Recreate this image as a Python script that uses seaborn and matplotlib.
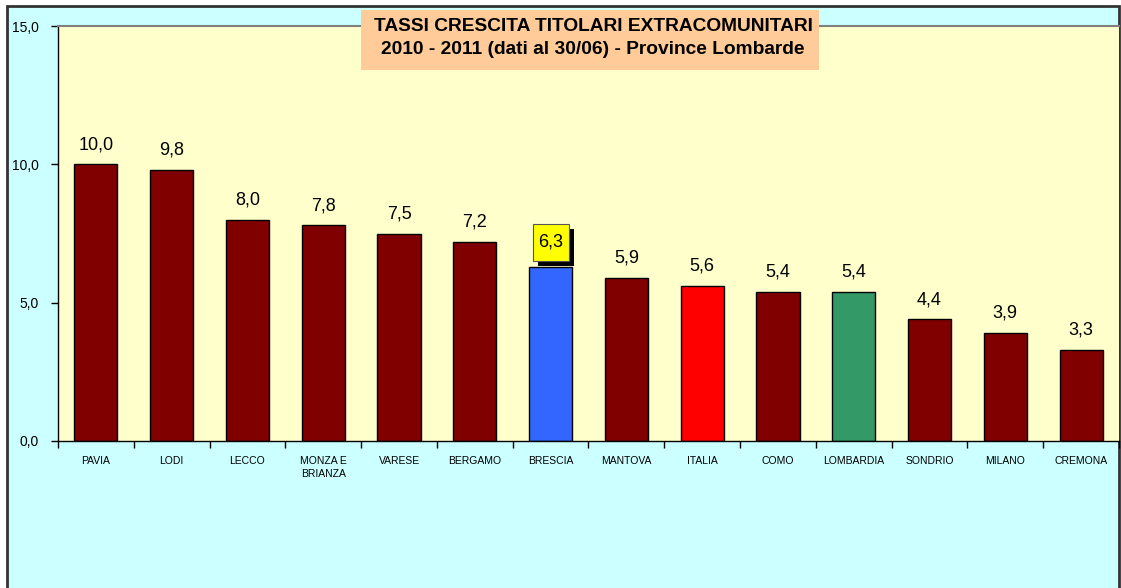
import matplotlib
matplotlib.use('Agg')
import matplotlib.pyplot as plt
import matplotlib.patches as mpatches
from matplotlib.ticker import FixedLocator
import pandas as pd
import seaborn as sns

# dati
province = ['PAVIA', 'LODI', 'LECCO', 'MONZA E\nBRIANZA', 'VARESE', 'BERGAMO', 'BRESCIA',
            'MANTOVA', 'ITALIA', 'COMO', 'LOMBARDIA', 'SONDRIO', 'MILANO', 'CREMONA']
tassi = [10.0, 9.8, 8.0, 7.8, 7.5, 7.2, 6.3, 5.9, 5.6, 5.4, 5.4, 4.4, 3.9, 3.3]
colori = {'BRESCIA': '#3366FF', 'ITALIA': '#FF0000', 'LOMBARDIA': '#339966'}
y_ticks = [0, 5, 10, 15]
titolo = 'TASSI CRESCITA TITOLARI EXTRACOMUNITARI\n2010 - 2011 (dati al 30/06) - Province Lombarde'

df = pd.DataFrame({'provincia': province, 'tasso': tassi})
palette = {p: colori.get(p, '#800000') for p in province}

sns.set_theme(style='white')
plt.rcParams['font.family'] = ['Liberation Sans', 'DejaVu Sans']
plt.rcParams['text.color'] = 'black'
plt.rcParams['xtick.color'] = 'black'
plt.rcParams['ytick.color'] = 'black'

W, H = 1121, 588
fig = plt.figure(figsize=(W / 100, H / 100), dpi=100, facecolor='white')

# sfondo azzurro con bordo
fig.add_artist(mpatches.Rectangle((7 / W, -0.05), 1112 / W, 1 - 6 / H + 0.05,
                                  transform=fig.transFigure, facecolor='#CCFFFF',
                                  edgecolor='#333333', lw=2, zorder=-1))

ax = fig.add_axes([58 / W, 1 - 441 / H, 1061 / W, 415 / H])
ax.set_facecolor('#FFFFCC')

sns.barplot(data=df, x='provincia', y='tasso', hue='provincia', palette=palette,
            legend=False, width=0.57, edgecolor='black', linewidth=1, saturation=1, ax=ax)

ax.set_xlim(-0.5, len(province) - 0.5)
ax.set_ylim(0, 15)
ax.set_yticks(y_ticks)
ax.set_yticklabels([f'{v:.1f}'.replace('.', ',') for v in y_ticks], fontsize=10)
ax.set_xlabel('')
ax.set_ylabel('')
ax.tick_params(axis='y', direction='out', length=5, width=1, color='black', pad=9, left=True)
ax.tick_params(axis='x', which='major', length=0, pad=11, labelsize=7.5)
ax.xaxis.set_minor_locator(FixedLocator([i + 0.5 for i in range(-1, len(province))]))
ax.tick_params(axis='x', which='minor', direction='out', length=5, width=1, color='black', bottom=True)
for lab in ax.get_xticklabels():
    lab.set_linespacing(1.4)

for s in ['left', 'bottom']:
    ax.spines[s].set_color('black')
    ax.spines[s].set_linewidth(1)
ax.spines['top'].set_color('#808080')
ax.spines['top'].set_linewidth(1.5)
ax.spines['right'].set_visible(False)

# etichette valori
etichette = [f'{v:.1f}'.replace('.', ',') for v in tassi]
i_br = province.index('BRESCIA')
for cont in ax.containers:
    bar = cont[0]
    i = int(round(bar.get_x() + bar.get_width() / 2))
    if i == i_br:
        continue
    ax.bar_label(cont, labels=[etichette[i]], padding=8, fontsize=13)

# etichetta evidenziata (Brescia) con ombra
px_x = 1 / 75.8
px_y = 15 / 415
bw, bh = 36 * px_x, 37 * px_y
bx, by = i_br - bw / 2, tassi[i_br] + 6 * px_y
ax.add_patch(mpatches.Rectangle((bx + 5 * px_x, by - 5 * px_y), bw, bh, facecolor='black',
                                edgecolor='none', zorder=4))
ax.add_patch(mpatches.Rectangle((bx, by), bw, bh, facecolor='#FFFF00',
                                edgecolor='#555555', lw=0.8, zorder=5))
ax.text(i_br, by + bh / 2, etichette[i_br], ha='center', va='center', fontsize=13, zorder=6)

# titolo
fig.add_artist(mpatches.Rectangle((361 / W, 1 - 70 / H), 458 / W, 60 / H, transform=fig.transFigure,
                                  facecolor='#FFCC99', edgecolor='none', zorder=5))
fig.text(593 / W, 1 - 38 / H, titolo, ha='center', va='center', fontsize=13.8, fontweight='bold',
         linespacing=1.5, zorder=6)

fig.savefig('out.png', dpi=100, facecolor='white')
